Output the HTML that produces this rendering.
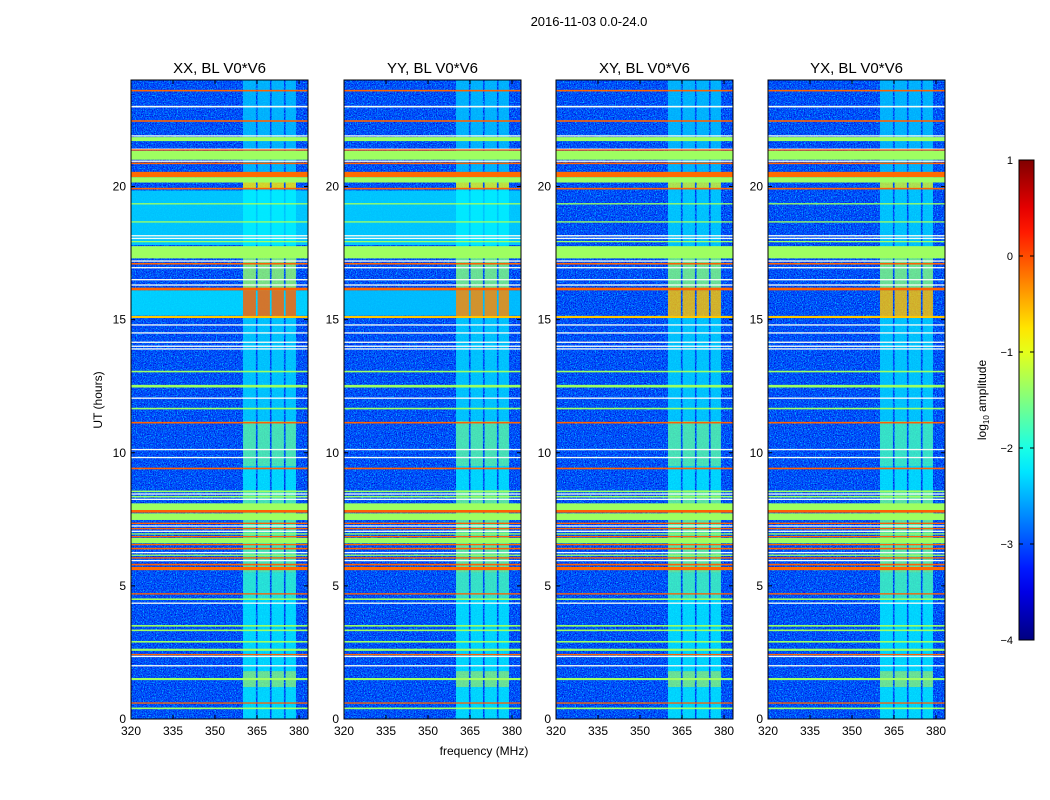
<!DOCTYPE html>
<html><head><meta charset="utf-8"><style>
body{margin:0;background:#fff;font-family:"Liberation Sans",sans-serif;}
#wrap{position:relative;width:1050px;height:800px;overflow:hidden;}
svg text{font-family:"Liberation Sans",sans-serif;}
</style></head><body>
<div id="wrap">
<svg id="fig" width="1050" height="800" xmlns="http://www.w3.org/2000/svg">
<defs>
<filter id="noise" x="0" y="0" width="100%" height="100%">
<feTurbulence type="fractalNoise" baseFrequency="0.85" numOctaves="1" seed="4" result="t"/>
<feColorMatrix in="t" type="matrix" values="0 0 0 0 0  0 0 0 0 0.6  0 0 0 0 1  3.2 0 0 0 -1.45"/>
</filter>
<filter id="noise2" x="0" y="0" width="100%" height="100%">
<feTurbulence type="fractalNoise" baseFrequency="0.9" numOctaves="1" seed="11" result="t"/>
<feColorMatrix in="t" type="matrix" values="0 0 0 0 0  0 0 0 0 0  0 0 0 0 0.55  0 3.5 0 0 -1.75"/>
</filter>
<linearGradient id="cbgrad" x1="0" y1="1" x2="0" y2="0"></linearGradient>
</defs>
<text x="589" y="26" font-size="13" text-anchor="middle">2016-11-03 0.0-24.0</text>
</svg>
</div>
<script>
const panelTitles = ["XX, BL V0*V6","YY, BL V0*V6","XY, BL V0*V6","YX, BL V0*V6"];
const xTicks = [320,335,350,365,380];
const yTicks = [0,5,10,15,20];
const cbTicks = [1,0,-1,-2,-3,-4];
const bandColumns = [[360,364.6],[365.2,369.6],[370.2,374.6],[375.2,378.9]];
const bandSegments = [[0,1.2],[1.2,1.8],[1.8,4.5],[4.5,5.5],[5.5,8.6],[8.6,9.5],[9.5,11.2],[11.2,15.1],[15.1,16.1],[16.1,17.3],[17.3,19.9],[19.9,20.3],[20.3,24]];
const bandXX = [-2.2,-1.5,-2.2,-1.9,-1.7,-2.2,-1.7,-2.3,-0.1,-1.4,-2.2,-0.8,-2.4];
const bandYY = [-2.2,-1.5,-2.2,-1.8,-1.6,-2.2,-1.7,-2.3,-0.3,-1.5,-2.2,-1.0,-2.4];
const bandXY = [-2.2,-1.5,-2.2,-1.8,-1.6,-2.2,-1.7,-2.3,-0.6,-1.5,-2.3,-1.1,-2.4];
const bandYX = [-2.2,-1.5,-2.2,-1.8,-1.6,-2.2,-1.8,-2.3,-0.6,-1.5,-2.3,-1.1,-2.4];
const bgSegments = [[17.8,19.85],[15.15,16.1]];
const bgXX = [-2.35,-2.3];
const bgYY = [-2.35,-2.4];
const bgXY = [-3.0,-3.0];
const bgYX = [-3.0,-3.0];
const rowHours = [23.6,23.0,22.46,21.9,21.78,21.4,21.37,21.17,20.95,20.87,20.45,20.25,19.92,19.35,18.67,18.15,18.05,17.93,17.53,17.2,17.1,16.95,16.5,16.3,16.15,15.1,14.8,14.5,14.15,14.0,13.9,13.05,12.5,12.05,11.66,11.13,10.12,9.82,9.41,8.55,8.45,8.35,8.25,7.95,7.8,7.6,7.35,7.25,7.15,7.05,6.95,6.85,6.7,6.55,6.4,6.25,6.15,6.05,5.95,5.8,5.65,4.7,4.5,4.35,3.5,3.33,2.9,2.6,2.42,2.35,2.0,1.5,0.6,0.4];
const rowWidths = [0.06,0.06,0.06,0.05,0.15,0.05,0.05,0.33,0.05,0.06,0.2,0.2,0.06,0.05,0.05,0.05,0.05,0.05,0.46,0.05,0.06,0.05,0.05,0.05,0.1,0.08,0.05,0.05,0.05,0.05,0.05,0.06,0.1,0.05,0.06,0.06,0.05,0.05,0.06,0.06,0.05,0.06,0.05,0.3,0.1,0.25,0.05,0.05,0.05,0.05,0.05,0.05,0.2,0.05,0.06,0.05,0.05,0.05,0.05,0.06,0.12,0.05,0.06,0.05,0.06,0.06,0.06,0.08,0.05,0.05,0.05,0.08,0.05,0.06];
const W = null;
const rowLevels = [-0.1,W,-0.1,W,-1.35,W,-0.1,-1.35,W,-0.1,-0.15,-1.35,-0.1,-1.35,-1.35,W,W,-1.35,-1.35,W,-0.1,W,W,W,-0.1,-0.6,W,W,W,W,W,-1.35,-1.35,W,-1.35,-0.1,W,W,-0.1,-1.35,W,-1.35,W,-1.35,-0.1,-1.35,-0.1,W,-0.1,W,-1.35,-0.1,-1.35,-0.1,-0.1,W,-1.35,-0.1,W,-0.1,-0.15,-0.1,-1.35,W,-1.35,-1.35,-1.35,-1.35,-0.1,W,W,-1.35,-0.1,-1.35];

const panelX = [131,344,556,768];
const PW = 177, PT = 80, PB = 719;
const fMin = 320, fMax = 383.2, hMax = 24;
const bands = [bandXX,bandYY,bandXY,bandYX];
const bgs = [bgXX,bgYY,bgXY,bgYX];
const NS = "http://www.w3.org/2000/svg";
const svg = document.getElementById('fig');

function jet(v){
  let x = Math.max(0,Math.min(1,(v+4)/5));
  const c = t => Math.round(255*Math.max(0,Math.min(1,t)));
  return `rgb(${c(1.5-Math.abs(4*x-3))},${c(1.5-Math.abs(4*x-2))},${c(1.5-Math.abs(4*x-1))})`;
}
function mk(tag, attrs, parent){
  const e = document.createElementNS(NS, tag);
  for (const k in attrs) e.setAttribute(k, attrs[k]);
  (parent||svg).appendChild(e);
  return e;
}
function yScale(h){ return PB - h/hMax*(PB-PT); }
function xScaleFor(x0){ return f => x0 + (f-fMin)/(fMax-fMin)*PW; }

panelX.forEach((x0, p) => {
  const xs = xScaleFor(x0);
  const g = mk('g', {});
  
  
  const bg = mk('rect', {x:x0, y:PT, width:PW, height:PB-PT, fill:jet(-3.05)}, g);
  
  
  mk('rect', {x:x0, y:PT, width:PW, height:PB-PT, filter:'url(#noise)', fill:'#000'}, g);
  mk('rect', {x:x0, y:PT, width:PW, height:PB-PT, filter:'url(#noise2)', fill:'#000'}, g);
  bgSegments.forEach((s,i) => {
    const r = mk('rect', {x:x0, y:yScale(s[1]), width:PW, height:yScale(s[0])-yScale(s[1]), fill:jet(bgs[p][i]), 'fill-opacity':0.9}, g);
    
    
    if (bgs[p][i] < -2.9) r.setAttribute('fill-opacity', '0');
  });
  bandSegments.forEach((s,i) => {
    bandColumns.forEach(c => {
      const r = mk('rect', {x:xs(c[0]), y:yScale(s[1]), width:xs(c[1])-xs(c[0]), height:yScale(s[0])-yScale(s[1]), fill:jet(bands[p][i]), 'fill-opacity':0.82}, g);
      
      
    });
  });
  rowHours.forEach((h,i) => {
    const y1 = yScale(h + rowWidths[i]/2), y2 = yScale(h - rowWidths[i]/2);
    const r = mk('rect', {x:x0, y:y1, width:PW, height:Math.max(1.2,y2-y1), fill: rowLevels[i]===null ? '#f4fbf4' : jet(rowLevels[i])}, g);
    
    
  });
  const fr = mk('rect', {x:x0, y:PT, width:PW, height:PB-PT, fill:'none', stroke:'#000', 'stroke-width':1}, g);
  
  
  const t = mk('text', {x:x0+PW/2, y:73, 'font-size':15, 'text-anchor':'middle'}, g);
  t.textContent = panelTitles[p];
  
  
  xTicks.forEach(v => {
    const x = xs(v);
    mk('line', {x1:x, x2:x, y1:PB, y2:PB-4, stroke:'#000'}, g);
    mk('line', {x1:x, x2:x, y1:PT, y2:PT+4, stroke:'#000'}, g);
    const tl = mk('text', {x:x, y:PB+16, 'font-size':12, 'text-anchor':'middle'}, g);
    tl.textContent = v;
    
    
  });
  yTicks.forEach(v => {
    const y = yScale(v);
    mk('line', {x1:x0, x2:x0+4, y1:y, y2:y, stroke:'#000'}, g);
    mk('line', {x1:x0+PW, x2:x0+PW-4, y1:y, y2:y, stroke:'#000'}, g);
    const tl = mk('text', {x:x0-5, y:y+4, 'font-size':12, 'text-anchor':'end'}, g);
    tl.textContent = v;
    
    
  });
});
const xl = mk('text', {x:484, y:755, 'font-size':12, 'text-anchor':'middle'});
xl.textContent = 'frequency (MHz)';


const yl = mk('text', {x:0, y:0, 'font-size':12, 'text-anchor':'middle', transform:'translate(102,400) rotate(-90)'});
yl.textContent = 'UT (hours)';



const grad = document.getElementById('cbgrad');
for (let i=0;i<=20;i++){ mk('stop', {offset:(i/20), 'stop-color':jet(-4+5*i/20)}, grad); }
const cbTop=160, cbBot=640, cbX=1019, cbW=15;
const cbScale = v => cbBot - (v+4)/5*(cbBot-cbTop);
const cb = mk('rect', {x:cbX, y:cbTop, width:cbW, height:cbBot-cbTop, fill:'url(#cbgrad)', stroke:'#000'});


cbTicks.forEach(v => {
  const y = cbScale(v);
  mk('line', {x1:cbX, x2:cbX+4, y1:y, y2:y, stroke:'#000'});
  mk('line', {x1:cbX+cbW, x2:cbX+cbW-4, y1:y, y2:y, stroke:'#000'});
  const t = mk('text', {x:1013, y:y+4, 'font-size':11, 'text-anchor':'end'});
  t.textContent = v < 0 ? '\u2212' + (-v) : v;
  
  
});
const cl = mk('text', {x:0, y:0, 'font-size':12, 'text-anchor':'middle', transform:'translate(986,400) rotate(-90)'});
cl.innerHTML = 'log<tspan font-size="8" dy="3">10</tspan><tspan dy="-3"> amplitude</tspan>';


</script>
</body></html>
